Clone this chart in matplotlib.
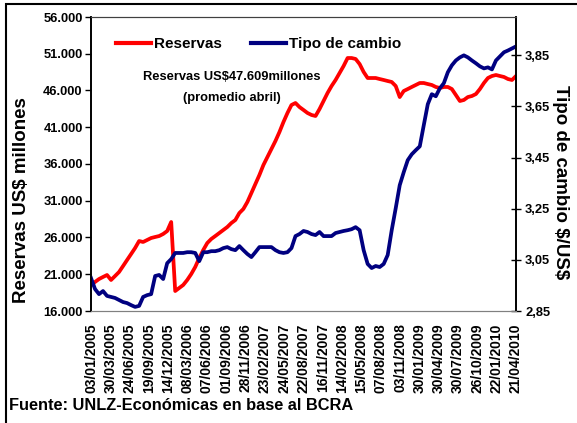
import numpy as np
import matplotlib
matplotlib.use("Agg")
import matplotlib.pyplot as plt
from matplotlib.lines import Line2D
from matplotlib.patches import Rectangle

plt.rcParams['font.family'] = ['Liberation Sans', 'DejaVu Sans']
plt.rcParams['font.weight'] = 'bold'

fechas = ["03/01/2005", "30/03/2005", "24/06/2005", "19/09/2005", "14/12/2005",
          "08/03/2006", "07/06/2006", "01/09/2006", "28/11/2006", "23/02/2007",
          "24/05/2007", "22/08/2007", "16/11/2007", "14/02/2008", "15/05/2008",
          "07/08/2008", "03/11/2008", "30/01/2009", "30/04/2009", "30/07/2009",
          "26/10/2009", "22/01/2010", "21/04/2010"]

# Reservas (millones US$), sampled evenly along the period
reservas = [19540, 19950, 20350, 20630, 20900, 20220, 20760, 21310, 22120, 22940,
            23750, 24570, 25520, 25390, 25660, 25930, 26070, 26200, 26480, 26880,
            28110, 18720, 19130, 19540, 20220, 21030, 21990, 23210, 24300, 25250,
            25800, 26200, 26610, 27020, 27430, 27970, 28380, 29330, 29880, 30830,
            32050, 33280, 34500, 35860, 36950, 38040, 39130, 40350, 41710, 42940,
            44030, 44300, 43750, 43350, 42940, 42670, 42530, 43480, 44570, 45660,
            46610, 47430, 48380, 49330, 50420, 50420, 50290, 49600, 48520, 47700,
            47700, 47700, 47560, 47430, 47290, 47160, 46610, 45110, 45930, 46200,
            46480, 46750, 47020, 47020, 46880, 46750, 46480, 46340, 46480, 46480,
            46200, 45390, 44570, 44710, 45110, 45250, 45520, 46200, 47020, 47700,
            47970, 48110, 47970, 47840, 47560, 47430, 47970]

# Tipo de cambio ($/US$)
tipo_cambio = [2.979, 2.936, 2.916, 2.928, 2.909, 2.905, 2.901, 2.893, 2.885, 2.881,
               2.873, 2.866, 2.870, 2.905, 2.912, 2.916, 2.987, 2.991, 2.975, 3.037,
               3.053, 3.077, 3.077, 3.077, 3.080, 3.080, 3.077, 3.045, 3.080, 3.080,
               3.084, 3.084, 3.088, 3.096, 3.100, 3.092, 3.088, 3.104, 3.088, 3.073,
               3.061, 3.080, 3.100, 3.100, 3.100, 3.100, 3.088, 3.080, 3.077, 3.080,
               3.096, 3.143, 3.151, 3.163, 3.159, 3.151, 3.147, 3.159, 3.143, 3.143,
               3.143, 3.155, 3.159, 3.163, 3.166, 3.170, 3.178, 3.166, 3.088, 3.034,
               3.018, 3.026, 3.022, 3.034, 3.069, 3.166, 3.252, 3.342, 3.393, 3.440,
               3.463, 3.479, 3.494, 3.577, 3.659, 3.698, 3.690, 3.721, 3.741, 3.784,
               3.811, 3.830, 3.842, 3.850, 3.842, 3.830, 3.819, 3.807, 3.799, 3.803,
               3.795, 3.830, 3.846, 3.862, 3.869, 3.877, 3.885]

yl_ticks = [16000, 21000, 26000, 31000, 36000, 41000, 46000, 51000, 56000]
yr_ticks = [2.85, 3.05, 3.25, 3.45, 3.65, 3.85]

W, H = 577, 423
fig = plt.figure(figsize=(W / 100, H / 100), dpi=100)
ax = fig.add_axes([91 / W, 1 - 311 / H, (516 - 91) / W, (311 - 17) / H])
ax2 = ax.twinx()

x = np.arange(len(reservas))
ax.plot(x, reservas, color='#FF0000', lw=2.7, solid_joinstyle='round')
ax2.plot(x, tipo_cambio, color='#000080', lw=2.7, solid_joinstyle='round')

ax.set_xlim(0, len(reservas) - 1)
ax.set_ylim(16000, 56000)
ax2.set_ylim(2.85, 4.0)

ax.set_yticks(yl_ticks)
ax.set_yticklabels([f"{v:,}".replace(",", ".") for v in yl_ticks], fontsize=9.3, fontweight='bold')
ax2.set_yticks(yr_ticks)
ax2.set_yticklabels([f"{v:.2f}".replace(".", ",") for v in yr_ticks], fontsize=9.3, fontweight='bold')

ax.set_xticks(np.linspace(0, len(reservas) - 1, len(fechas)))
ax.set_xticklabels(fechas, rotation=90, fontsize=10, fontweight='bold')
ax.tick_params(axis='x', length=0, pad=9)
ax.tick_params(axis='y', direction='out', length=4, width=1, pad=2)
ax2.tick_params(axis='y', direction='inout', length=7, width=1, pad=3)

for a in (ax, ax2):
    a.spines['left'].set_color('black')
    a.spines['right'].set_color('black')
    a.spines['top'].set_color('#404040')
    a.spines['bottom'].set_color('#808080')
    a.spines['left'].set_linewidth(1.2)
    a.spines['right'].set_linewidth(1.2)

fig.text(22 / W, 1 - 200 / H, "Reservas US\\$ millones", rotation=90, ha='center', va='center',
         fontsize=13.5, fontweight='bold')
fig.text(561 / W, 1 - 182 / H, "Tipo de cambio \\$/US\\$", rotation=270, ha='center', va='center',
         fontsize=13.5, fontweight='bold')

ax2.text(232 / W, 1 - 77 / H, "Reservas US\\$47.609millones", transform=fig.transFigure,
         ha='center', va='center', fontsize=9.3, fontweight='bold')
ax2.text(232 / W, 1 - 98 / H, "(promedio abril)", transform=fig.transFigure,
         ha='center', va='center', fontsize=9.3, fontweight='bold')

handles = [Line2D([], [], color='#FF0000', lw=3), Line2D([], [], color='#000080', lw=3)]
ax2.legend(handles, ["Reservas", "Tipo de cambio"], ncol=2, frameon=False,
           loc='center left', bbox_to_anchor=(116 / W, 1 - 44 / H),
           bbox_transform=fig.transFigure, prop={'size': 11, 'weight': 'bold'},
           handlelength=2.3, handletextpad=0.2, columnspacing=1.9, borderpad=0, borderaxespad=0)

fig.text(9 / W, 1 - 405 / H, "Fuente: UNLZ-Económicas en base al BCRA", ha='left', va='center',
         fontsize=11.8, fontweight='bold')

fig.add_artist(Rectangle((6 / W, -0.1), 1.2, 1 - 4 / H + 0.1, transform=fig.transFigure,
                         fill=False, edgecolor='black', lw=1.5, clip_on=False))

fig.savefig("out.png", dpi=100)
